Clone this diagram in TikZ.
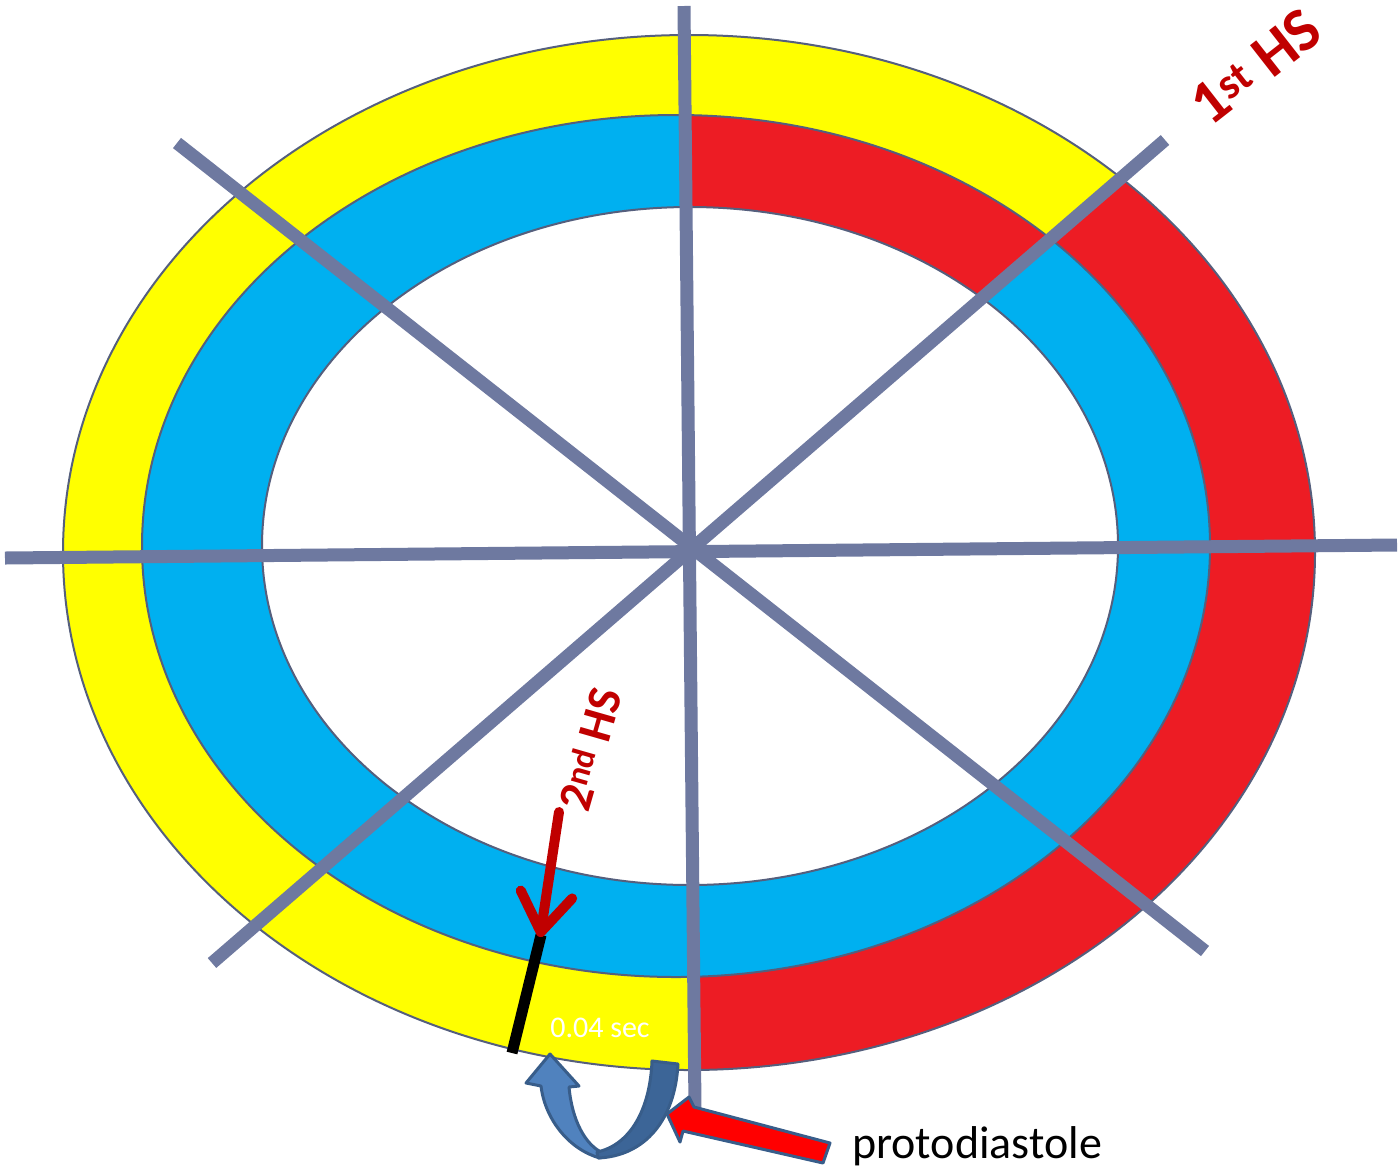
\documentclass[tikz,border=0pt]{standalone}
\usepackage{fontspec}
\setmainfont{Carlito}
\usetikzlibrary{arrows.meta}
\definecolor{ringyellow}{RGB}{255,255,0}
\definecolor{ringblue}{RGB}{0,176,240}
\definecolor{ringred}{RGB}{237,28,36}
\definecolor{spokecol}{RGB}{110,121,160}
\definecolor{edgecol}{RGB}{85,95,125}
\definecolor{hsred}{RGB}{192,0,0}
\definecolor{arrowlight}{RGB}{80,130,190}
\definecolor{arrowdark}{RGB}{60,101,151}
\definecolor{arrowedge}{RGB}{56,93,138}
\begin{document}
\begin{tikzpicture}[x=1pt,y=-1pt,
  spoke/.style={draw=spokecol,line width=13pt},
  ringedge/.style={draw=edgecol,line width=2pt},
  hslabel/.style={text=hsred,inner sep=0pt},
  blockarrow/.style={draw=arrowedge,line width=3pt,line join=round}]
\useasboundingbox (0,0) rectangle (1399,1168);
\coordinate (C) at (690,548);
% outer ring
\fill[ringyellow] (689,552.5) ellipse [x radius=626, y radius=517.5];
\begin{scope}
  \clip (C) -- (1677,-300) -- (1800,-300) -- (1800,1400) -- (698,1400) -- cycle;
  \fill[ringred] (689,552.5) ellipse [x radius=626, y radius=517.5];
\end{scope}
% middle ring
\fill[ringblue] (676,546) ellipse [x radius=534, y radius=431];
\begin{scope}
  \clip (C) -- (681,-300) -- (1677,-300) -- cycle;
  \fill[ringred] (676,546) ellipse [x radius=534, y radius=431];
\end{scope}
% inner
\fill[white] (690,546) ellipse [x radius=428, y radius=339];
% outlines
\draw[ringedge] (689,552.5) ellipse [x radius=626, y radius=517.5];
\draw[ringedge] (676,546) ellipse [x radius=534, y radius=431];
\draw[ringedge] (690,546) ellipse [x radius=428, y radius=339];
% spokes
\coordinate (vT) at (684,6);
\coordinate (vB) at (695,1109);
\coordinate (hL) at (5,558);
\coordinate (hR) at (1397,545);
\coordinate (dAa) at (177,143);
\coordinate (dAb) at (1205,951);
\coordinate (dBa) at (1165,140);
\coordinate (dBb) at (212,963);
\draw[spoke] (vT) -- (vB);
\draw[spoke] (hL) -- (hR);
\draw[spoke] (dAa) -- (dAb);
\draw[spoke] (dBa) -- (dBb);
% black marker
\coordinate (bA) at (512,1053);
\coordinate (bB) at (541,935);
\draw[black,line width=11pt] (bA) -- (bB);
% 2nd HS arrow
\coordinate (hsA) at (559,812);
\coordinate (hsB) at (540,937);
\draw[hsred,line width=10pt,line cap=round,-{Straight Barb[length=38pt,width=52pt,round]}] (hsA) -- (hsB);
% labels
\node[hslabel,font=\bfseries\fontsize{62}{66}\selectfont,rotate=38] (hs1) at (1256,67) {1\textsuperscript{st} HS};
\node[hslabel,font=\bfseries\fontsize{48}{52}\selectfont,rotate=74] (hs2) at (590,749) {2\textsuperscript{nd} HS};
\node[text=white,inner sep=0pt,font=\fontsize{30}{33}\selectfont] (sec) at (600,1028) {0.04 sec};
% blue curved arrow
\path[fill=arrowlight,blockarrow] (550,1054) -- (579,1086) -- (569,1087)
  .. controls (572,1120) and (585,1145) .. (603,1153) -- (600,1158)
  .. controls (570,1150) and (545,1120) .. (541,1086) -- (526,1083) -- cycle;
\path[fill=arrowdark,blockarrow] (652,1061) -- (678,1064)
  .. controls (675,1120) and (645,1156) .. (598,1158) -- (597,1152)
  .. controls (630,1145) and (650,1110) .. (652,1061) -- cycle;
% red block arrow
\path[fill=red,blockarrow] (667,1114) -- (689,1097) -- (694,1107) -- (830,1143)
  -- (823,1163) -- (683,1131) -- (680,1142) -- cycle;
\node[anchor=base west,inner sep=0pt,font=\fontsize{46}{50}\selectfont] (proto) at (852,1158) {protodiastole};
\end{tikzpicture}
\end{document}
